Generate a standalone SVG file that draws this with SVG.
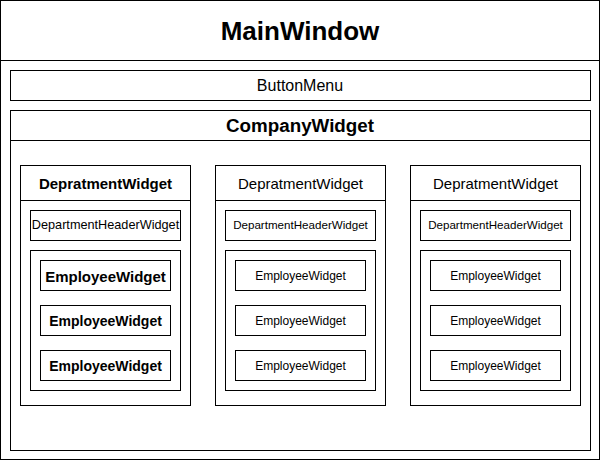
<svg xmlns="http://www.w3.org/2000/svg" width="601" height="461" viewBox="0 0 601 461">
<style>
rect{fill:#fff;stroke:#000;stroke-width:1}
line{stroke:#000;stroke-width:1}
text{font-family:"Liberation Sans",Arial,sans-serif;fill:#000;text-anchor:middle}
.b{font-weight:bold}
.dh{font-size:15px}
.hw{font-size:11.6px}
.ew{font-size:12px}
.eb{font-size:14px;font-weight:bold}
</style>
<g id="MainWindow">
<rect x="0.5" y="0.5" width="599" height="459"/>
<line x1="0.5" y1="60.5" x2="599.5" y2="60.5"/>
<text class="b" x="300" y="39.5" font-size="26">MainWindow</text>
</g>
<g id="ButtonMenu">
<rect x="10.5" y="70.5" width="580" height="30"/>
<text x="300" y="91" font-size="16">ButtonMenu</text>
</g>
<g id="CompanyWidget">
<rect x="10.5" y="110.5" width="580" height="340"/>
<line x1="10.5" y1="140.5" x2="590.5" y2="140.5"/>
<text class="b" x="300" y="131.5" font-size="18.8">CompanyWidget</text>
</g>
<g id="Dept1">
<rect x="20.5" y="165.5" width="170" height="240"/>
<line x1="20.5" y1="200.5" x2="190.5" y2="200.5"/>
<text class="b" x="105.5" y="189" font-size="15">DepratmentWidget</text>
<rect x="30.5" y="210.5" width="150" height="30"/>
<text x="105.5" y="229.3" font-size="12.7">DepartmentHeaderWidget</text>
<rect x="30.5" y="250.5" width="150" height="140"/>
<rect x="40.5" y="260.5" width="130" height="30"/>
<text x="105.5" y="281.5" font-size="15" class="b">EmployeeWidget</text>
<rect x="40.5" y="305.5" width="130" height="30"/>
<text class="eb" x="105.5" y="325.7">EmployeeWidget</text>
<rect x="40.5" y="350.5" width="130" height="30"/>
<text class="eb" x="105.5" y="370.7">EmployeeWidget</text>
</g>
<g id="Dept2">
<rect x="215.5" y="165.5" width="170" height="240"/>
<line x1="215.5" y1="200.5" x2="385.5" y2="200.5"/>
<text class="dh" x="300.5" y="189">DepratmentWidget</text>
<rect x="225.5" y="210.5" width="150" height="30"/>
<text class="hw" x="300.5" y="229.3">DepartmentHeaderWidget</text>
<rect x="225.5" y="250.5" width="150" height="140"/>
<rect x="235.5" y="260.5" width="130" height="30"/>
<text class="ew" x="300.5" y="279.8">EmployeeWidget</text>
<rect x="235.5" y="305.5" width="130" height="30"/>
<text class="ew" x="300.5" y="324.8">EmployeeWidget</text>
<rect x="235.5" y="350.5" width="130" height="30"/>
<text class="ew" x="300.5" y="369.8">EmployeeWidget</text>
</g>
<g id="Dept3">
<rect x="410.5" y="165.5" width="170" height="240"/>
<line x1="410.5" y1="200.5" x2="580.5" y2="200.5"/>
<text class="dh" x="495.5" y="189">DepratmentWidget</text>
<rect x="420.5" y="210.5" width="150" height="30"/>
<text class="hw" x="495.5" y="229.3">DepartmentHeaderWidget</text>
<rect x="420.5" y="250.5" width="150" height="140"/>
<rect x="430.5" y="260.5" width="130" height="30"/>
<text class="ew" x="495.5" y="279.8">EmployeeWidget</text>
<rect x="430.5" y="305.5" width="130" height="30"/>
<text class="ew" x="495.5" y="324.8">EmployeeWidget</text>
<rect x="430.5" y="350.5" width="130" height="30"/>
<text class="ew" x="495.5" y="369.8">EmployeeWidget</text>
</g>
<g id="connectors"/>
</svg>
